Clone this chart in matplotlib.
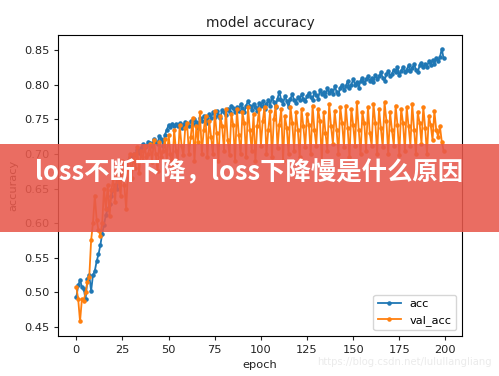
import matplotlib.pyplot as plt
from matplotlib.patches import Rectangle

# acc / val_acc por epoch
acc = [0.493, 0.510, 0.518, 0.508, 0.505, 0.490, 0.520, 0.525, 0.502, 0.525,
       0.531, 0.545, 0.555, 0.568, 0.585, 0.598, 0.612, 0.620, 0.628, 0.640,
       0.648, 0.655, 0.650, 0.662, 0.670, 0.668, 0.678, 0.682, 0.690, 0.695,
       0.692, 0.700, 0.698, 0.706, 0.702, 0.708, 0.714, 0.710, 0.712, 0.718,
       0.716, 0.712, 0.722, 0.718, 0.715, 0.726, 0.722, 0.712, 0.728, 0.735,
       0.742, 0.739, 0.744, 0.740, 0.743, 0.741, 0.745, 0.738, 0.742, 0.746,
       0.743, 0.740, 0.748, 0.744, 0.750, 0.746, 0.738, 0.752, 0.748, 0.755,
       0.750, 0.745, 0.758, 0.752, 0.760, 0.754, 0.762, 0.757, 0.752, 0.764,
       0.760, 0.756, 0.765, 0.760, 0.770, 0.766, 0.760, 0.768, 0.762, 0.772,
       0.766, 0.760, 0.770, 0.776, 0.770, 0.764, 0.772, 0.768, 0.762, 0.774,
       0.770, 0.776, 0.765, 0.772, 0.778, 0.770, 0.782, 0.775, 0.768, 0.780,
       0.790, 0.778, 0.772, 0.784, 0.776, 0.768, 0.780, 0.786, 0.778, 0.774,
       0.782, 0.778, 0.786, 0.780, 0.776, 0.784, 0.788, 0.782, 0.778, 0.790,
       0.785, 0.780, 0.792, 0.786, 0.790, 0.784, 0.795, 0.788, 0.792, 0.786,
       0.798, 0.790, 0.786, 0.796, 0.800, 0.792, 0.798, 0.805, 0.796, 0.800,
       0.808, 0.800, 0.804, 0.796, 0.806, 0.810, 0.802, 0.808, 0.812, 0.805,
       0.810, 0.804, 0.814, 0.808, 0.812, 0.818, 0.810, 0.806, 0.815, 0.820,
       0.812, 0.816, 0.822, 0.818, 0.825, 0.814, 0.820, 0.826, 0.818, 0.822,
       0.828, 0.820, 0.824, 0.830, 0.822, 0.818, 0.828, 0.832, 0.825, 0.830,
       0.826, 0.834, 0.828, 0.836, 0.830, 0.838, 0.834, 0.840, 0.852, 0.838]

val_acc = [0.508, 0.490, 0.458, 0.490, 0.488, 0.500, 0.515, 0.522, 0.575, 0.600,
           0.640, 0.605, 0.590, 0.582, 0.600, 0.650, 0.620, 0.655, 0.610, 0.648,
           0.665, 0.630, 0.680, 0.660, 0.640, 0.690, 0.655, 0.620, 0.678, 0.700,
           0.665, 0.700, 0.680, 0.710, 0.672, 0.705, 0.690, 0.712, 0.695, 0.700,
           0.715, 0.688, 0.720, 0.700, 0.675, 0.718, 0.695, 0.705, 0.722, 0.690,
           0.728, 0.700, 0.680, 0.735, 0.705, 0.690, 0.742, 0.712, 0.698, 0.738,
           0.745, 0.700, 0.725, 0.752, 0.690, 0.740, 0.718, 0.760, 0.700, 0.735,
           0.755, 0.695, 0.748, 0.725, 0.700, 0.762, 0.730, 0.690, 0.755, 0.740,
           0.705, 0.765, 0.720, 0.698, 0.758, 0.742, 0.690, 0.765, 0.728, 0.700,
           0.760, 0.745, 0.695, 0.768, 0.735, 0.705, 0.758, 0.690, 0.740, 0.765,
           0.712, 0.748, 0.768, 0.700, 0.735, 0.762, 0.695, 0.750, 0.770, 0.708,
           0.742, 0.765, 0.690, 0.755, 0.738, 0.700, 0.768, 0.745, 0.705, 0.760,
           0.735, 0.695, 0.765, 0.740, 0.710, 0.758, 0.742, 0.700, 0.770, 0.735,
           0.712, 0.765, 0.748, 0.690, 0.760, 0.730, 0.705, 0.772, 0.740, 0.715,
           0.762, 0.735, 0.700, 0.768, 0.745, 0.710, 0.770, 0.738, 0.695, 0.765,
           0.742, 0.712, 0.775, 0.735, 0.700, 0.760, 0.745, 0.705, 0.768, 0.730,
           0.712, 0.772, 0.745, 0.700, 0.765, 0.738, 0.710, 0.775, 0.748, 0.700,
           0.760, 0.735, 0.712, 0.770, 0.742, 0.698, 0.765, 0.745, 0.705, 0.768,
           0.740, 0.712, 0.772, 0.735, 0.700, 0.760, 0.745, 0.715, 0.768, 0.738,
           0.700, 0.755, 0.742, 0.720, 0.762, 0.735, 0.725, 0.740, 0.718, 0.705]

epochs = list(range(len(acc)))

fig = plt.figure(figsize=(4.99, 3.76), dpi=100)
ax = fig.add_axes([0.1162, 0.1064, 0.8096, 0.8006])

ax.plot(epochs, acc, marker='.', markersize=4.5, linewidth=1.3, color='#1f77b4', label='acc')
ax.plot(epochs, val_acc, marker='.', markersize=4.5, linewidth=1.3, color='#ff7f0e', label='val_acc')

ax.set_title('model accuracy', fontsize=9.8, color='#222222')
ax.set_xlabel('epoch', fontsize=8.2, color='#222222')
ax.set_ylabel('accuracy', fontsize=8.2, color='#222222')
ax.set_xticks([0, 25, 50, 75, 100, 125, 150, 175, 200])
ax.set_yticks([0.45, 0.50, 0.55, 0.60, 0.65, 0.70, 0.75, 0.80, 0.85])
ax.tick_params(labelsize=8.2, length=2.8, colors='#222222')
ax.set_ylim(0.437, 0.872)
ax.legend(loc='lower right', fontsize=8.2)

# faixa vermelha com o título por cima do gráfico
fig.patches.append(Rectangle((0, 0.383), 1, 0.234, transform=fig.transFigure,
                             facecolor='#e8594c', alpha=0.88, zorder=10))
fig.text(0.5, 0.54, 'loss不断下降，loss下降慢是什么原因', color='white',
         fontsize=18.3, fontweight='bold', ha='center', va='center', zorder=11,
         family=['Noto Sans CJK SC', 'DejaVu Sans'])

fig.text(0.985, 0.025, 'https://blog.csdn.net/lulullangliang', color='#ebebeb',
         fontsize=7.2, ha='right', va='bottom')

fig.savefig('out.png', dpi=100)
